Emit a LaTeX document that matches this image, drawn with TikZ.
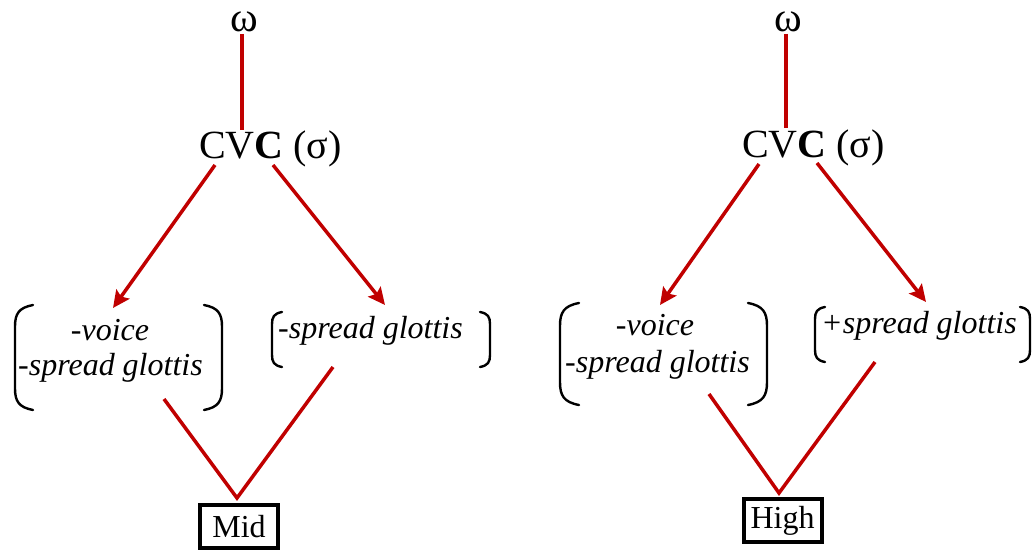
\documentclass[tikz,border=0pt]{standalone}
\usepackage{fontspec}
\setmainfont{Liberation Serif}
\usetikzlibrary{arrows.meta}
\definecolor{tred}{RGB}{192,0,0}
\tikzset{
 lbl/.style={anchor=base, inner sep=0pt, font=\fontsize{42}{48}\selectfont},
 feat/.style={anchor=base, inner sep=0pt, font=\fontsize{32}{38}\selectfont\itshape},
 syl/.style={anchor=base, inner sep=0pt, font=\fontsize{40}{46}\selectfont},
 link/.style={draw=tred, line width=3.5pt},
 arr/.style={link, -{Stealth[length=17pt,width=16pt,inset=3pt]}},
 brk/.style={draw=black, line width=2.4pt, line cap=round},
 tone/.style={draw=black, line width=4pt, minimum width=78pt, minimum height=43pt, inner sep=0pt, font=\fontsize{32}{38}\selectfont}
}
% #1 left x, #2 right x, #3 top y, #4 bottom y, #5 curl size
\newcommand\brkpair[5]{%
  \draw[brk] ({#1+#5},#3) .. controls ({#1+0.2*#5},{#3+0.15*#5}) and (#1,{#3+0.5*#5}) .. (#1,{#3+1.2*#5})
     -- (#1,{#4-1.2*#5}) .. controls (#1,{#4-0.5*#5}) and ({#1+0.2*#5},{#4-0.15*#5}) .. ({#1+#5},#4);
  \draw[brk] ({#2-#5},#3) .. controls ({#2-0.2*#5},{#3+0.15*#5}) and (#2,{#3+0.5*#5}) .. (#2,{#3+1.2*#5})
     -- (#2,{#4-1.2*#5}) .. controls (#2,{#4-0.5*#5}) and ({#2-0.2*#5},{#4-0.15*#5}) .. ({#2-#5},#4);
}
\begin{document}
\begin{tikzpicture}[x=1pt,y=-1pt]
\useasboundingbox (0,0) rectangle (1033,551);
% ---------- left diagram ----------
\node[lbl] (w1) at (244,32) {ω};
\node[syl] (cvc1) at (270.5,158) {CV\textbf{C} (σ)};
\node[feat] (v1) at (110,340) {-voice};
\node[feat] (s1) at (110.5,375) {-spread glottis};
\node[feat] (s2) at (370.5,338) {-spread glottis};
\node[tone] (mid) at (239,526.5) {Mid};
\coordinate (w1b) at (242,34);
\coordinate (cvc1t) at (242,130);
\coordinate (cvc1l) at (215,165);
\coordinate (f1t) at (113,308);
\coordinate (cvc1r) at (273,165);
\coordinate (f2t) at (385,305);
\coordinate (f1b) at (164,399);
\coordinate (f2b) at (333,367);
\coordinate (midt) at (237,498);
\draw[link] (w1b) -- (cvc1t);
\draw[arr] (cvc1l) -- (f1t);
\draw[arr] (cvc1r) -- (f2t);
\draw[link] (f1b) -- (midt) -- (f2b);
\brkpair{15}{222}{305}{410}{18}
\brkpair{272}{490}{312}{367}{10}
% ---------- right diagram ----------
\node[lbl] (w2) at (788,32) {ω};
\node[syl] (cvc2) at (813.5,157) {CV\textbf{C} (σ)};
\node[feat] (v3) at (655,335) {-voice};
\node[feat] (s3) at (657.5,372) {-spread glottis};
\node[feat] (s4) at (919,333) {+spread glottis};
\node[tone] (high) at (782.5,520.5) {High};
\coordinate (w2b) at (786,34);
\coordinate (cvc2t) at (786,128);
\coordinate (cvc2l) at (759,164);
\coordinate (f3t) at (660,305);
\coordinate (cvc2r) at (817,163);
\coordinate (f4t) at (926,302);
\coordinate (f3b) at (709,394);
\coordinate (f4b) at (875,362);
\coordinate (hight) at (779,493);
\draw[link] (w2b) -- (cvc2t);
\draw[arr] (cvc2l) -- (f3t);
\draw[arr] (cvc2r) -- (f4t);
\draw[link] (f3b) -- (hight) -- (f4b);
\brkpair{560}{767}{303}{405}{19}
\brkpair{815}{1030}{307}{362}{10}
\end{tikzpicture}
\end{document}
